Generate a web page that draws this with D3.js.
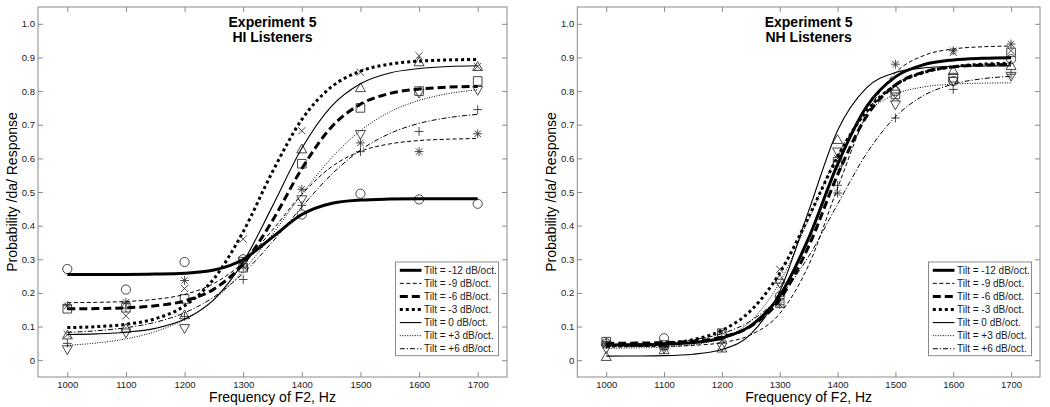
<!DOCTYPE html>
<html>
<head>
<meta charset="utf-8">
<script src="https://cdn.jsdelivr.net/npm/d3@7"></script>
<style>
body { margin: 0; background: #fff; }
svg { font-family: "Liberation Sans", Arial, sans-serif; }
</style>
</head>
<body>
<svg id="chart" width="1050" height="407"></svg>
<script>
// data

const freqs = [1000, 1100, 1200, 1300, 1400, 1500, 1600, 1700];
const fitFreqs = [1000, 1050, 1100, 1150, 1200, 1250, 1300, 1350, 1400, 1450, 1500, 1550, 1600, 1650, 1700];
const yTicks = [0, 0.1, 0.2, 0.3, 0.4, 0.5, 0.6, 0.7, 0.8, 0.9, 1.0];
const tiltLabels = ['Tilt = -12 dB/oct.', 'Tilt = -9 dB/oct.', 'Tilt = -6 dB/oct.', 'Tilt = -3 dB/oct.',
    'Tilt = 0 dB/oct.', 'Tilt = +3 dB/oct.', 'Tilt = +6 dB/oct.'];
const titles = [['Experiment 5', 'HI Listeners'], ['Experiment 5', 'NH Listeners']];

// HI listeners, observed proportions
const hiM12 = [0.271, 0.21, 0.292, 0.30, 0.433, 0.495, 0.478, 0.465];
const hiM9 = [0.162, 0.172, 0.237, 0.28, 0.508, 0.646, 0.62, 0.673];
const hiM6 = [0.153, 0.156, 0.182, 0.275, 0.584, 0.75, 0.80, 0.83];
const hiM3 = [0.076, 0.132, 0.213, 0.36, 0.682, 0.856, 0.905, 0.873];
const hi0 = [0.074, 0.094, 0.134, 0.285, 0.627, 0.809, 0.886, 0.872];
const hiP3 = [0.032, 0.082, 0.095, 0.295, 0.478, 0.672, 0.795, 0.803];
const hiP6 = [0.05, 0.155, 0.13, 0.24, 0.46, 0.62, 0.68, 0.745];

// HI listeners, fitted curves
const hiFitM12 = [0.255, 0.255, 0.255, 0.256, 0.2585, 0.268, 0.2995, 0.366, 0.433, 0.466, 0.476, 0.479, 0.48, 0.48, 0.48];
const hiFitM9 = [0.171, 0.172, 0.1745, 0.181, 0.1955, 0.228, 0.2905, 0.387, 0.493, 0.574, 0.621, 0.643, 0.653, 0.657, 0.659];
const hiFitM6 = [0.1526, 0.1535, 0.1557, 0.1616, 0.1763, 0.2113, 0.2863, 0.415, 0.5694, 0.692, 0.761, 0.793, 0.806, 0.8117, 0.8137];
const hiFitM3 = [0.0969, 0.0997, 0.1066, 0.1232, 0.1616, 0.2421, 0.382, 0.5604, 0.7155, 0.8116, 0.8592, 0.8802, 0.889, 0.8926, 0.894];
const hiFit0 = [0.0764, 0.0783, 0.0831, 0.0946, 0.1214, 0.1802, 0.2923, 0.458, 0.630, 0.754, 0.822, 0.854, 0.867, 0.873, 0.8754];
const hiFitP3 = [0.0443, 0.0511, 0.0633, 0.0848, 0.1213, 0.1798, 0.2653, 0.3745, 0.4928, 0.5999, 0.6822, 0.7379, 0.7723, 0.7925, 0.804];
const hiFitP6 = [0.0827, 0.0875, 0.0965, 0.1126, 0.141, 0.1878, 0.2585, 0.3519, 0.4557, 0.5511, 0.6246, 0.6738, 0.7039, 0.7211, 0.7307];

// NH listeners, observed proportions
const nhM12 = [0.05, 0.065, 0.075, 0.19, 0.58, 0.80, 0.83, 0.895];
const nhM9 = [0.05, 0.04, 0.06, 0.165, 0.497, 0.88, 0.92, 0.94];
const nhM6 = [0.055, 0.045, 0.08, 0.17, 0.59, 0.79, 0.84, 0.915];
const nhM3 = [0.045, 0.05, 0.085, 0.27, 0.60, 0.78, 0.915, 0.92];
const nh0 = [0.01, 0.03, 0.035, 0.24, 0.655, 0.805, 0.86, 0.875];
const nhP3 = [0.035, 0.035, 0.04, 0.23, 0.62, 0.76, 0.83, 0.845];
const nhP6 = [0.055, 0.04, 0.07, 0.19, 0.52, 0.72, 0.805, 0.85];

// NH listeners, fitted curves
const nhFitM12 = [0.0453, 0.0459, 0.0477, 0.0525, 0.0661, 0.1027, 0.1916, 0.3628, 0.5822, 0.7534, 0.8423, 0.8789, 0.8925, 0.8973, 0.899];
const nhFitM9 = [0.0402, 0.0405, 0.0413, 0.044, 0.0521, 0.0754, 0.1385, 0.2825, 0.5121, 0.7294, 0.8542, 0.9064, 0.9252, 0.9317, 0.9339];
const nhFitM6 = [0.0503, 0.0508, 0.0523, 0.0566, 0.0685, 0.1008, 0.1803, 0.3384, 0.5509, 0.7249, 0.8182, 0.8573, 0.8719, 0.8772, 0.879];
const nhFitM3 = [0.0415, 0.0437, 0.0489, 0.0609, 0.0884, 0.1476, 0.259, 0.4257, 0.6046, 0.7401, 0.8179, 0.8557, 0.8725, 0.8798, 0.8828];
const nhFit0 = [0.0121, 0.0125, 0.0136, 0.0178, 0.0319, 0.0775, 0.2042, 0.4435, 0.6828, 0.8095, 0.8552, 0.8692, 0.8734, 0.8746, 0.875];
const nhFitP3 = [0.0355, 0.0363, 0.0389, 0.046, 0.0657, 0.1167, 0.2308, 0.4182, 0.611, 0.7341, 0.7906, 0.8126, 0.8207, 0.8235, 0.8245];
const nhFitP6 = [0.0464, 0.0482, 0.0521, 0.0607, 0.0791, 0.117, 0.1894, 0.3086, 0.4636, 0.614, 0.7236, 0.7878, 0.8208, 0.8366, 0.844];

// line and marker style per tilt (matlab-ish)
const lineStyles = [
    { width: 3, dash: null, marker: 'circle' },
    { width: 1, dash: '4,2.5', marker: 'asterisk' },
    { width: 3, dash: '8,4', marker: 'square' },
    { width: 3, dash: '3,3', marker: 'cross' },
    { width: 1.1, dash: null, marker: 'triangleUp' },
    { width: 1, dash: '1,1.5', marker: 'triangleDown' },
    { width: 1, dash: '5,2,1.2,2', marker: 'plus' }
];

const AXIS_GRAY = '#8a8a8a';
const MARK_COLOR = '#333';

const svg = d3.select('#chart');
const line = d3.line().curve(d3.curveMonotoneX);

function markerPath(type) {
    const p = d3.path();
    if (type === 'circle') {
        p.moveTo(4.6, 0); p.arc(0, 0, 4.6, 0, 2 * Math.PI);
    } else if (type === 'square') {
        p.rect(-4.3, -4.3, 8.6, 8.6);
    } else if (type === 'triangleUp') {
        p.moveTo(0, -5.2); p.lineTo(5, 3.6); p.lineTo(-5, 3.6); p.closePath();
    } else if (type === 'triangleDown') {
        p.moveTo(0, 5.2); p.lineTo(5, -3.6); p.lineTo(-5, -3.6); p.closePath();
    } else if (type === 'cross') {
        p.moveTo(-3.6, -3.6); p.lineTo(3.6, 3.6); p.moveTo(3.6, -3.6); p.lineTo(-3.6, 3.6);
    } else if (type === 'plus') {
        p.moveTo(-4.4, 0); p.lineTo(4.4, 0); p.moveTo(0, -4.4); p.lineTo(0, 4.4);
    } else if (type === 'asterisk') {
        p.moveTo(-4.4, 0); p.lineTo(4.4, 0); p.moveTo(0, -4.4); p.lineTo(0, 4.4);
        p.moveTo(-3.2, -3.2); p.lineTo(3.2, 3.2); p.moveTo(3.2, -3.2); p.lineTo(-3.2, 3.2);
    }
    return p.toString();
}

function drawPanel(panel) {
    const x = d3.scaleLinear().domain([950, 1750]).range([panel.left, panel.right]);
    const y = d3.scaleLinear().domain([-0.05, 1.05]).range([panel.bottom, panel.top]);
    const g = svg.append('g');

    // ticks on all four sides, pointing inward
    const axes = [
        [d3.axisBottom(x).tickValues(freqs).tickFormat(d3.format('d')), `translate(0,${panel.bottom})`],
        [d3.axisTop(x).tickValues(freqs).tickFormat(''), `translate(0,${panel.top})`],
        [d3.axisLeft(y).tickValues(yTicks).tickFormat(d => d === 0 ? '0' : d3.format('.1f')(d)), `translate(${panel.left},0)`],
        [d3.axisRight(y).tickValues(yTicks).tickFormat(''), `translate(${panel.right},0)`]
    ];
    axes.forEach(([axis, tr], i) => {
        const a = g.append('g')
            .attr('transform', tr)
            .call(axis.tickSize(-5).tickSizeOuter(0).tickPadding(i === 0 ? 4 : 3));
        a.select('.domain').remove();
        a.selectAll('.tick line').attr('stroke', AXIS_GRAY);
        a.selectAll('.tick text')
            .attr('fill', '#1a1a1a')
            .attr('font-size', 9.5)
            .attr('font-family', '"Liberation Sans", Arial, sans-serif');
    });

    g.append('rect')
        .attr('x', panel.left).attr('y', panel.top)
        .attr('width', panel.right - panel.left).attr('height', panel.bottom - panel.top)
        .attr('fill', 'none').attr('stroke', AXIS_GRAY).attr('stroke-width', 1);

    // observed points
    panel.points.forEach((vals, i) => {
        g.append('g').selectAll('path')
            .data(vals)
            .join('path')
            .attr('transform', (v, j) => `translate(${x(freqs[j])},${y(v)})`)
            .attr('d', markerPath(lineStyles[i].marker))
            .attr('fill', 'none')
            .attr('stroke', MARK_COLOR)
            .attr('stroke-width', 0.9);
    });

    // fitted curves
    panel.fits.forEach((vals, i) => {
        g.append('path')
            .attr('d', line(vals.map((v, j) => [x(fitFreqs[j]), y(v)])))
            .attr('fill', 'none')
            .attr('stroke', '#000')
            .attr('stroke-width', lineStyles[i].width)
            .attr('stroke-dasharray', lineStyles[i].dash);
    });

    // title
    const cx = (panel.left + panel.right) / 2;
    panel.title.forEach((t, k) => {
        g.append('text')
            .attr('x', cx).attr('y', 27 + k * 15)
            .attr('text-anchor', 'middle')
            .attr('font-size', 14).attr('font-weight', 'bold')
            .text(t);
    });

    // axis labels
    g.append('text')
        .attr('x', cx).attr('y', 402)
        .attr('text-anchor', 'middle')
        .attr('font-size', 14)
        .text('Frequency of F2, Hz');
    g.append('text')
        .attr('transform', `translate(${panel.left - 21.5},${(panel.top + panel.bottom) / 2}) rotate(-90)`)
        .attr('text-anchor', 'middle')
        .attr('font-size', 14)
        .text('Probability /da/ Response');

    // legend
    const boxW = 103, boxH = 93.7;
    const bx = panel.right - 8.5 - boxW, by = panel.bottom - 21.3 - boxH;
    const lg = g.append('g').attr('transform', `translate(${bx},${by})`);
    lg.append('rect')
        .attr('width', boxW).attr('height', boxH)
        .attr('fill', '#fff').attr('stroke', AXIS_GRAY).attr('stroke-width', 1);
    tiltLabels.forEach((label, i) => {
        const ry = 8.3 + i * 13.07;
        lg.append('line')
            .attr('x1', 4.3).attr('x2', 26).attr('y1', ry).attr('y2', ry)
            .attr('stroke', '#000')
            .attr('stroke-width', lineStyles[i].width)
            .attr('stroke-dasharray', lineStyles[i].dash);
        lg.append('text')
            .attr('x', 28.5).attr('y', ry + 3.5)
            .attr('font-size', 10)
            .attr('fill', '#1a1a1a')
            .text(label);
    });
}

drawPanel({
    left: 38, right: 507, top: 7, bottom: 377,
    title: titles[0],
    points: [hiM12, hiM9, hiM6, hiM3, hi0, hiP3, hiP6],
    fits: [hiFitM12, hiFitM9, hiFitM6, hiFitM3, hiFit0, hiFitP3, hiFitP6]
});
drawPanel({
    left: 577.3, right: 1040, top: 7, bottom: 377,
    title: titles[1],
    points: [nhM12, nhM9, nhM6, nhM3, nh0, nhP3, nhP6],
    fits: [nhFitM12, nhFitM9, nhFitM6, nhFitM3, nhFit0, nhFitP3, nhFitP6]
});
</script>
</body>
</html>
